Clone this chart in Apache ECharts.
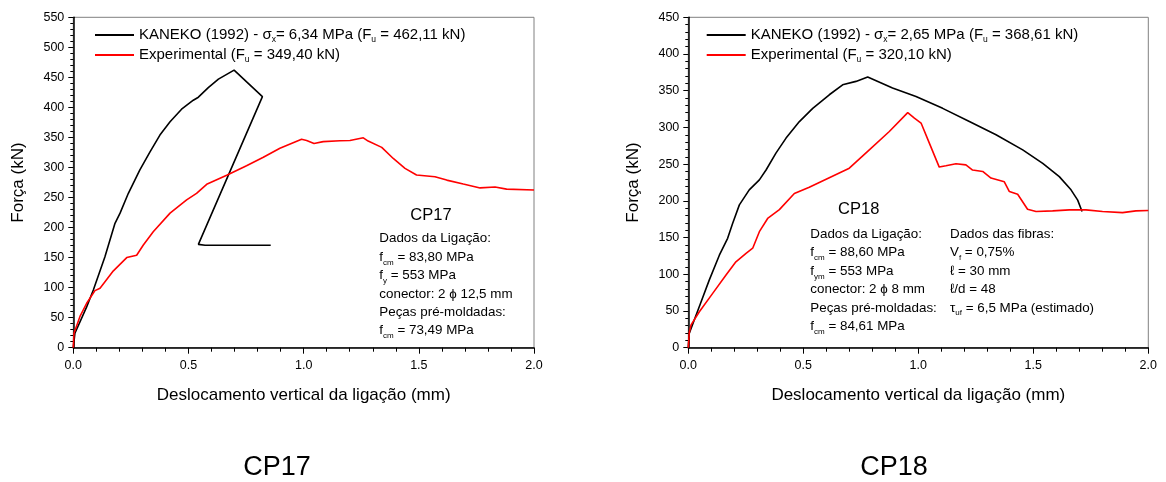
<!DOCTYPE html>
<html>
<head>
<meta charset="utf-8">
<script src="https://cdn.jsdelivr.net/npm/echarts@6/dist/echarts.min.js"></script>
<style>
html,body{margin:0;padding:0;background:#fff;}
#chart{width:1166px;height:482px;}
</style>
</head>
<body>
<div id="chart"></div>
<script>
// ---------- DATA (displacement mm, force kN) ----------
const kaneko17 = [[0,0],[0.007,24],[0.058,68],[0.087,96],[0.137,151],[0.181,207],[0.203,224],[0.239,257],[0.289,296],[0.333,326],[0.376,354],[0.42,376],[0.47,397],[0.521,412],[0.543,417],[0.586,433],[0.63,447],[0.698,462.11],[0.821,418],[0.543,172],[0.572,170.5],[0.857,170.5]];
const exp17 = [[0,0],[0.003,24],[0.029,52],[0.058,74],[0.094,95],[0.116,99],[0.174,128],[0.232,150],[0.275,154],[0.304,171],[0.347,193],[0.42,224],[0.492,246],[0.535,257],[0.579,272],[0.666,287],[0.752,303],[0.825,317],[0.897,332],[0.991,347],[1.013,345],[1.045,340],[1.085,343],[1.158,344.6],[1.201,345],[1.259,349.4],[1.28,344],[1.339,333.5],[1.389,315],[1.44,298.6],[1.49,287.5],[1.57,284.7],[1.621,279],[1.693,272.5],[1.766,266],[1.831,267.5],[1.881,264],[2.0,262.5]];
const kaneko18 = [[0,0],[0.004,19.5],[0.048,56],[0.091,92],[0.135,126],[0.171,149],[0.193,169.5],[0.222,194.5],[0.265,215],[0.309,228.6],[0.338,242],[0.381,265],[0.425,285.5],[0.483,308],[0.541,326],[0.613,344.5],[0.671,358],[0.729,362.7],[0.78,368.61],[0.888,353.6],[0.99,342],[1.106,326],[1.222,308],[1.338,290],[1.454,269.5],[1.541,251],[1.613,233],[1.664,215],[1.693,201],[1.712,185.5]];
const exp18 = [[0,0],[0.004,20],[0.012,31],[0.048,49],[0.106,74],[0.164,99],[0.207,117],[0.251,128.6],[0.28,135.5],[0.309,158],[0.345,176],[0.396,188],[0.461,210],[0.526,218.6],[0.7,244.5],[0.787,269.5],[0.874,294.5],[0.954,320.1],[0.983,312.7],[1.012,306],[1.048,278.6],[1.091,246],[1.12,247.7],[1.164,250.5],[1.207,249],[1.236,242],[1.28,240],[1.316,231],[1.374,226],[1.396,212.7],[1.432,209],[1.475,188.6],[1.512,185.5],[1.584,186.4],[1.657,187.7],[1.729,187.7],[1.801,185.5],[1.888,184],[1.946,186.4],[2.0,186.8]];

const xTicksMax = 2.0;
const yMax17 = 550, yMax18 = 450;

const legendLabels = {
  k17: 'KANEKO (1992) - σ{s|x}= 6,34 MPa (F{s|u} = 462,11 kN)',
  e17: 'Experimental (F{s|u} = 349,40 kN)',
  k18: 'KANEKO (1992) - σ{s|x}= 2,65 MPa (F{s|u} = 368,61 kN)',
  e18: 'Experimental (F{s|u} = 320,10 kN)'
};
const note17 = ['Dados da Ligação:', 'f{s|cm} = 83,80 MPa', 'f{s|y} = 553 MPa', 'conector: 2 ϕ 12,5 mm', 'Peças pré-moldadas:', 'f{s|cm} = 73,49 MPa'];
const note18a = ['Dados da Ligação:', 'f{s|cm} = 88,60 MPa', 'f{s|ym} = 553 MPa', 'conector: 2 ϕ 8 mm', 'Peças pré-moldadas:', 'f{s|cm} = 84,61 MPa'];
const note18b = ['Dados das fibras:', 'V{s|f} = 0,75%', 'ℓ = 30 mm', 'ℓ/d = 48', 'τ{s|uf} = 6,5 MPa (estimado)'];

// ---------- STYLE ----------
const FONT = "'Liberation Sans', Arial, 'DejaVu Sans', sans-serif";
const subRich = (lh) => ({ s: { fontSize: 8.5, fontFamily: FONT, color: '#000', verticalAlign: 'bottom', lineHeight: lh } });

function xAxis(gi) {
  return {
    type: 'value', gridIndex: gi, min: 0, max: xTicksMax, interval: 0.5,
    name: 'Deslocamento vertical da ligação (mm)', nameLocation: 'middle', nameGap: 39,
    nameTextStyle: { fontFamily: FONT, fontSize: 17, color: '#000' },
    axisLine: { show: true, onZero: false, lineStyle: { color: '#000', width: 1.5 } },
    axisTick: { show: true, length: 6, lineStyle: { color: '#000', width: 1 } },
    minorTick: { show: true, splitNumber: 5, length: 4, lineStyle: { color: '#000', width: 1 } },
    splitLine: { show: false }, minorSplitLine: { show: false },
    axisLabel: { margin: 11, fontFamily: FONT, fontSize: 12.5, color: '#000', formatter: v => v.toFixed(1) }
  };
}
function yAxis(gi, max) {
  return {
    type: 'value', gridIndex: gi, min: 0, max: max, interval: 50,
    name: 'Força (kN)', nameLocation: 'middle', nameGap: 46,
    nameTextStyle: { fontFamily: FONT, fontSize: 17, color: '#000' },
    axisLine: { show: true, onZero: false, lineStyle: { color: '#000', width: 1.5 } },
    axisTick: { show: true, length: 5, lineStyle: { color: '#000', width: 1 } },
    minorTick: { show: true, splitNumber: 5, length: 3, lineStyle: { color: '#000', width: 1 } },
    splitLine: { show: false }, minorSplitLine: { show: false },
    axisLabel: { margin: 9, fontFamily: FONT, fontSize: 12.5, color: '#000' }
  };
}
function lineSeries(name, data, color, gi) {
  return {
    name: name, type: 'line', data: data, xAxisIndex: gi, yAxisIndex: gi,
    showSymbol: false, symbol: 'none', smooth: false, clip: true,
    lineStyle: { color: color, width: 1.6 }, itemStyle: { color: color }
  };
}
function legend(keys, left) {
  return {
    data: keys, left: left, top: 26, orient: 'vertical', icon: 'rect', padding: 0,
    itemWidth: 39, itemHeight: 2, itemGap: 2, selectedMode: false,
    formatter: n => legendLabels[n],
    textStyle: { fontFamily: FONT, fontSize: 15, color: '#000', lineHeight: 18, rich: subRich(18) }
  };
}
function note(lines, x, y) {
  return {
    type: 'text', left: x, top: y, silent: true,
    style: {
      text: lines.join('\n'), fontFamily: FONT, fontSize: 13.4, fill: '#000',
      lineHeight: 18.4, rich: { s: { fontSize: 8, fontFamily: FONT, fill: '#000', verticalAlign: 'bottom', lineHeight: 18.4 } }
    }
  };
}
function title(text, cx, cy, size) {
  return {
    type: 'text', x: cx, y: cy, silent: true,
    style: { text: text, fontFamily: FONT, fontSize: size, fill: '#000', align: 'center', verticalAlign: 'middle' }
  };
}

const chart = echarts.init(document.getElementById('chart'), null, { renderer: 'canvas' });
chart.setOption({
  animation: false,
  backgroundColor: '#fff',
  grid: [
    { left: 73.3, top: 17.3, width: 460.7, height: 330.4, show: true, borderColor: '#808080', borderWidth: 1, backgroundColor: 'transparent' },
    { left: 688.3, top: 17.3, width: 460, height: 330.4, show: true, borderColor: '#808080', borderWidth: 1, backgroundColor: 'transparent' }
  ],
  xAxis: [xAxis(0), xAxis(1)],
  yAxis: [yAxis(0, yMax17), yAxis(1, yMax18)],
  legend: [legend(['k17', 'e17'], 95), legend(['k18', 'e18'], 706.7)],
  series: [
    lineSeries('k17', kaneko17, '#000000', 0),
    lineSeries('e17', exp17, '#ff0000', 0),
    lineSeries('k18', kaneko18, '#000000', 1),
    lineSeries('e18', exp18, '#ff0000', 1)
  ],
  graphic: [
    title('CP17', 431, 215, 16.5),
    note(note17, 379.3, 229.5),
    title('CP18', 858.7, 209.3, 16.5),
    note(note18a, 810.3, 225.1),
    note(note18b, 950, 225.1),
    title('CP17', 277, 468, 27),
    title('CP18', 894, 468, 27)
  ]
});
</script>
</body>
</html>
